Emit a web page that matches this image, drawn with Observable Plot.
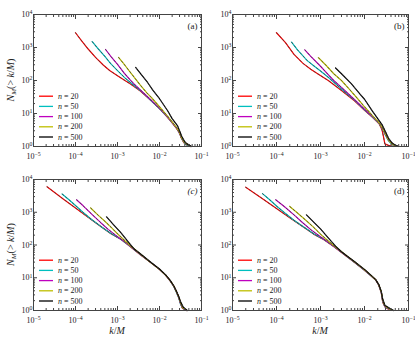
<!DOCTYPE html>
<html><head><meta charset="utf-8">
<script src="https://cdn.jsdelivr.net/npm/d3@7"></script>
<script src="https://cdn.jsdelivr.net/npm/@observablehq/plot@0.6"></script>
<style>
body{margin:0;background:#fff;}
#chart{position:relative;width:415px;height:338px;overflow:hidden;font-family:"Liberation Serif","DejaVu Serif",serif;}
#chart svg{position:absolute;overflow:visible;background:none;}
</style></head><body><div id="chart"></div>
<script>
// ---- data ----
const ns = [20, 50, 100, 200, 500];
const colors = ["#ff0000", "#00bfbf", "#bf00bf", "#bfbf00", "#000000"];
const xMajor = [1e-5, 1e-4, 1e-3, 1e-2, 1e-1];
const yMajor = [1, 10, 100, 1000, 10000];
const minorMult = [2, 3, 4, 5, 6, 7, 8, 9];
const panelLabels = ["(a)", "(b)", "(c)", "(d)"];

const a_n20 = [[1e-4,2800],[1.4e-4,1600],[2e-4,900],[3e-4,500],[4.5e-4,300],[6.5e-4,200],[1e-3,140],[1.5e-3,100],[2e-3,80],[3.5e-3,48],[6e-3,26],[1e-2,14],[1.5e-2,8],[2e-2,5.2],[2.6e-2,3.4],[3e-2,2.6],[3.3e-2,1.8],[3.8e-2,1.3],[4.5e-2,1.1],[5.3e-2,1]];
const a_n50 = [[2.5e-4,1500],[3.5e-4,900],[5e-4,540],[6.8e-4,330],[1e-3,200],[1.5e-3,120],[2e-3,88],[3.5e-3,50],[6e-3,26],[1e-2,14],[1.5e-2,8.2],[2e-2,5.3],[2.6e-2,3.5],[3e-2,2.5],[3.4e-2,1.7],[4e-2,1.25],[4.8e-2,1.05],[5.5e-2,1]];
const a_n100 = [[5.2e-4,870],[7e-4,530],[1e-3,310],[1.4e-3,175],[2e-3,105],[2.5e-3,78],[3.5e-3,52],[6e-3,27],[1e-2,14.5],[1.5e-2,8.3],[2e-2,5.4],[2.6e-2,3.5],[3e-2,2.5],[3.4e-2,1.8],[4e-2,1.3],[5e-2,1.1],[5.6e-2,1]];
const a_n200 = [[1.06e-3,500],[1.5e-3,290],[2e-3,180],[3.5e-3,72],[5e-3,42],[6.5e-3,30],[1e-2,16],[1.5e-2,8.8],[2e-2,5.6],[2.6e-2,3.6],[3e-2,2.6],[3.4e-2,1.8],[4e-2,1.3],[5e-2,1.1],[5.6e-2,1]];
const a_n500 = [[2.7e-3,250],[3.5e-3,165],[5.2e-3,87],[7e-3,50],[1e-2,28],[1.55e-2,12.3],[2e-2,7],[2.7e-2,4.2],[3e-2,3],[3.4e-2,2],[4e-2,1.4],[4.5e-2,1.2],[5.2e-2,1.1],[5.8e-2,1]];

const b_n20 = [[1e-4,2800],[1.6e-4,1400],[2.5e-4,620],[4e-4,330],[6e-4,220],[8.6e-4,160],[1.5e-3,100],[3e-3,50],[6e-3,24],[1e-2,12.5],[1.5e-2,7.8],[2.15e-2,4.9],[2.5e-2,3.2],[2.7e-2,2],[2.9e-2,1.2],[3.5e-2,1.08],[4.5e-2,1]];
const b_n50 = [[2.2e-4,1450],[3e-4,850],[5e-4,400],[7e-4,280],[1e-3,195],[1.5e-3,125],[3e-3,55],[6e-3,25],[1e-2,13],[1.5e-2,8],[2.15e-2,5],[2.6e-2,3.3],[3e-2,2.2],[3.5e-2,1.5],[4.2e-2,1.15],[5e-2,1.03],[5.8e-2,1]];
const b_n100 = [[4.4e-4,850],[6e-4,540],[1e-3,270],[1.5e-3,150],[2e-3,100],[3e-3,62],[6e-3,26],[1e-2,13.5],[1.5e-2,8.2],[2.15e-2,5.1],[2.6e-2,3.4],[3e-2,2.3],[3.5e-2,1.6],[4.2e-2,1.2],[5e-2,1.05],[5.8e-2,1]];
const b_n200 = [[9e-4,490],[1.3e-3,300],[2e-3,160],[3e-3,100],[4.5e-3,55],[7e-3,28],[1e-2,16],[1.5e-2,8.8],[2.15e-2,5.2],[2.6e-2,3.5],[3e-2,2.4],[3.5e-2,1.6],[4.2e-2,1.2],[5e-2,1.05],[5.8e-2,1]];
const b_n500 = [[2.2e-3,240],[3e-3,160],[5e-3,80],[8e-3,38],[1e-2,27],[1.5e-2,12],[2e-2,7],[2.5e-2,4.6],[3e-2,2.8],[3.5e-2,1.8],[4.2e-2,1.3],[5e-2,1.1],[6e-2,1]];

const c_n20 = [[2.1e-5,6000],[5e-5,2600],[1e-4,1350],[2e-4,700],[4e-4,370],[7e-4,220],[1.2e-3,150],[2e-3,90],[3.5e-3,50],[6e-3,30],[1e-2,18],[1.4e-2,12],[1.8e-2,8],[2.2e-2,5.5],[2.6e-2,3.5],[2.9e-2,2.4],[3.2e-2,1.6],[3.5e-2,1.2],[4.5e-2,1]];
const c_n50 = [[4.8e-5,3600],[7e-5,2400],[1e-4,1600],[1.5e-4,1000],[2.5e-4,580],[4e-4,370],[7e-4,225],[1.2e-3,150],[2e-3,92],[3.5e-3,51],[6e-3,30],[1e-2,18],[1.4e-2,12],[1.8e-2,8],[2.2e-2,5.3],[2.6e-2,3.3],[2.9e-2,2.3],[3.2e-2,1.5],[3.6e-2,1.15],[4.5e-2,1]];
const c_n100 = [[1.06e-4,2400],[1.5e-4,1600],[2.5e-4,850],[4e-4,480],[6e-4,300],[1e-3,180],[1.5e-3,125],[2e-3,93],[3.5e-3,52],[6e-3,30],[1e-2,18],[1.4e-2,12],[1.8e-2,8],[2.2e-2,5.4],[2.6e-2,3.4],[2.9e-2,2.4],[3.2e-2,1.6],[3.6e-2,1.15],[4.4e-2,1]];
const c_n200 = [[2.3e-4,1350],[3.5e-4,800],[5e-4,530],[7e-4,350],[1e-3,220],[1.5e-3,135],[2e-3,97],[3.5e-3,53],[6e-3,30],[1e-2,18],[1.4e-2,12],[1.8e-2,8.2],[2.2e-2,5.5],[2.6e-2,3.5],[2.9e-2,2.5],[3.2e-2,1.7],[3.6e-2,1.2],[4.5e-2,1]];
const c_n500 = [[5.5e-4,720],[8e-4,420],[1.2e-3,240],[1.8e-3,125],[2.5e-3,75],[3.5e-3,54],[6e-3,31],[1e-2,18.5],[1.4e-2,12.2],[1.8e-2,8.3],[2.2e-2,5.6],[2.6e-2,3.6],[2.9e-2,2.6],[3.2e-2,1.8],[3.7e-2,1.25],[4.6e-2,1]];

const d_n20 = [[2e-5,5800],[5e-5,2500],[1e-4,1300],[2e-4,680],[4e-4,360],[7e-4,215],[1.2e-3,145],[2e-3,90],[3.5e-3,50],[6e-3,29],[1e-2,17],[1.4e-2,11.5],[1.8e-2,8.5],[2.1e-2,6],[2.4e-2,3.5],[2.6e-2,1.8],[2.9e-2,1.3],[3.5e-2,1.1],[4.3e-2,1]];
const d_n50 = [[4.8e-5,3700],[7e-5,2400],[1e-4,1550],[1.5e-4,980],[2.5e-4,570],[4e-4,365],[7e-4,220],[1.2e-3,148],[2e-3,91],[3.5e-3,51],[6e-3,29],[1e-2,17],[1.4e-2,11.5],[1.8e-2,8.5],[2.1e-2,6],[2.4e-2,3.6],[2.6e-2,1.9],[2.9e-2,1.3],[3.6e-2,1.1],[4.4e-2,1]];
const d_n100 = [[9.6e-5,2400],[1.5e-4,1500],[2.5e-4,830],[4e-4,470],[6e-4,295],[1e-3,178],[1.5e-3,122],[2e-3,92],[3.5e-3,52],[6e-3,29.5],[1e-2,17.2],[1.4e-2,11.6],[1.8e-2,8.6],[2.1e-2,6.1],[2.4e-2,3.7],[2.6e-2,2],[2.9e-2,1.35],[3.6e-2,1.1],[4.4e-2,1]];
const d_n200 = [[2e-4,1500],[3e-4,950],[5e-4,520],[7e-4,345],[1e-3,215],[1.5e-3,133],[2e-3,96],[3.5e-3,53],[6e-3,30],[1e-2,17.5],[1.4e-2,11.8],[1.8e-2,8.7],[2.1e-2,6.2],[2.4e-2,3.8],[2.6e-2,2.1],[2.9e-2,1.4],[3.6e-2,1.12],[4.5e-2,1]];
const d_n500 = [[4.8e-4,830],[7e-4,500],[1e-3,310],[1.5e-3,165],[2.2e-3,92],[3e-3,62],[4e-3,46],[6e-3,31],[1e-2,18],[1.4e-2,12],[1.8e-2,8.8],[2.1e-2,6.3],[2.4e-2,3.9],[2.6e-2,2.2],[2.9e-2,1.45],[3.8e-2,1.15],[4.6e-2,1]];

const panelSeries = [
  [a_n20, a_n50, a_n100, a_n200, a_n500],
  [b_n20, b_n50, b_n100, b_n200, b_n500],
  [c_n20, c_n50, c_n100, c_n200, c_n500],
  [d_n20, d_n50, d_n100, d_n200, d_n500]
];

// ---- layout ----
const layout = [
  {left: 0,   top: 0,   width: 205, height: 165, ml: 33, mr: 4, mt: 14, mb: 19, ylab: true,  xlab: false},
  {left: 205, top: 0,   width: 210, height: 165, ml: 27, mr: 7, mt: 14, mb: 19, ylab: false, xlab: false},
  {left: 0,   top: 165, width: 205, height: 173, ml: 33, mr: 4, mt: 14, mb: 28, ylab: true,  xlab: true},
  {left: 205, top: 165, width: 210, height: 173, ml: 27, mr: 7, mt: 14, mb: 28, ylab: false, xlab: true}
];

const xMinor = xMajor.slice(0, -1).flatMap(m => minorMult.map(k => k * m));
const yMinor = yMajor.slice(0, -1).flatMap(m => minorMult.map(k => k * m));
const fmt = d => "10^" + Math.round(Math.log10(d));
const blank = () => "";
const axisColor = "#444";

const chart = document.getElementById("chart");

layout.forEach((L, p) => {
  const marks = [];
  panelSeries[p].forEach((s, i) => {
    marks.push(Plot.line(s, {x: d => d[0], y: d => d[1], stroke: colors[i], strokeWidth: 1.2}));
    marks.push(Plot.line(s, {x: d => d[0], y: d => d[1], stroke: "#3a3a3a", strokeWidth: 0.9, strokeDasharray: "2,2.5", strokeOpacity: 0.8}));
  });
  marks.push(
    Plot.axisX(xMajor, {anchor: "bottom", tickSize: -4, tickPadding: 10.5, tickFormat: fmt, stroke: axisColor, fill: "#222"}),
    Plot.axisX(xMajor, {anchor: "top", tickSize: -4, tickFormat: blank, stroke: axisColor}),
    Plot.axisX(xMinor, {anchor: "bottom", tickSize: -2, tickFormat: blank, stroke: axisColor}),
    Plot.axisX(xMinor, {anchor: "top", tickSize: -2, tickFormat: blank, stroke: axisColor}),
    Plot.axisY(yMajor, {anchor: "left", tickSize: -4, tickPadding: 5, tickFormat: fmt, stroke: axisColor, fill: "#222"}),
    Plot.axisY(yMajor, {anchor: "right", tickSize: -4, tickFormat: blank, stroke: axisColor}),
    Plot.axisY(yMinor, {anchor: "left", tickSize: -2, tickFormat: blank, stroke: axisColor}),
    Plot.axisY(yMinor, {anchor: "right", tickSize: -2, tickFormat: blank, stroke: axisColor}),
    Plot.frame({stroke: axisColor, strokeWidth: 1}),
    Plot.text([panelLabels[p]], {frameAnchor: "top-right", dx: -4, dy: 8, fontSize: 9, fill: "#222", fontStyle: p === 2 ? "italic" : "normal"})
  );
  const svg = Plot.plot({
    width: L.width, height: L.height,
    marginLeft: L.ml, marginRight: L.mr, marginTop: L.mt, marginBottom: L.mb,
    x: {type: "log", domain: [1e-5, 1e-1]},
    y: {type: "log", domain: [1, 1e4]},
    style: {fontFamily: "'Liberation Serif', 'DejaVu Serif', serif", fontSize: "8px", background: "none", overflow: "visible", color: "#222"},
    marks
  });
  svg.style.left = L.left + "px";
  svg.style.top = L.top + "px";
  chart.appendChild(svg);

  // superscript tick labels
  svg.querySelectorAll('[aria-label$="tick label"] text').forEach(t => {
    const m = /^10\^(-?\d+)$/.exec(t.textContent);
    if (!m) return;
    t.textContent = "10";
    const sup = document.createElementNS("http://www.w3.org/2000/svg", "tspan");
    sup.setAttribute("dy", "-0.45em");
    sup.setAttribute("font-size", "5.8px");
    sup.textContent = m[1].replace("-", "\u2212");
    t.appendChild(sup);
  });

  const g = d3.select(svg);
  const plotBottom = L.height - L.mb;
  const plotLeft = L.ml;
  // legend
  const lg = g.append("g").attr("font-size", 8).attr("fill", "#222").attr("text-anchor", "start");
  ns.forEach((n, i) => {
    const y = plotBottom - 9 - 10.2 * (4 - i);
    lg.append("line").attr("x1", plotLeft + 6).attr("x2", plotLeft + 20).attr("y1", y).attr("y2", y)
      .attr("stroke", colors[i]).attr("stroke-width", 1.3);
    const t = lg.append("text").attr("x", plotLeft + 25).attr("y", y).attr("dy", "0.32em");
    t.append("tspan").attr("font-style", "italic").text("n");
    t.append("tspan").text(" = " + n);
  });
  // y label
  if (L.ylab) {
    const cy = (L.mt + plotBottom) / 2;
    const t = g.append("text").attr("transform", `translate(10,${cy}) rotate(-90)`)
      .attr("text-anchor", "middle").attr("dy", "0.35em").attr("font-size", 10).attr("fill", "#222");
    t.append("tspan").attr("font-style", "italic").text("N");
    t.append("tspan").attr("font-style", "italic").attr("font-size", 7).attr("dy", "2").text("M");
    t.append("tspan").attr("dy", "-2").text("(> ");
    t.append("tspan").attr("font-style", "italic").text("k");
    t.append("tspan").text("/");
    t.append("tspan").attr("font-style", "italic").text("M");
    t.append("tspan").text(")");
  }
  if (L.xlab) {
    const cx = (L.ml + L.width - L.mr) / 2;
    const t = g.append("text").attr("x", cx).attr("y", plotBottom + 24).attr("text-anchor", "middle")
      .attr("font-size", 10).attr("fill", "#222");
    t.append("tspan").attr("font-style", "italic").text("k");
    t.append("tspan").text("/");
    t.append("tspan").attr("font-style", "italic").text("M");
  }
});
</script>
</body></html>
